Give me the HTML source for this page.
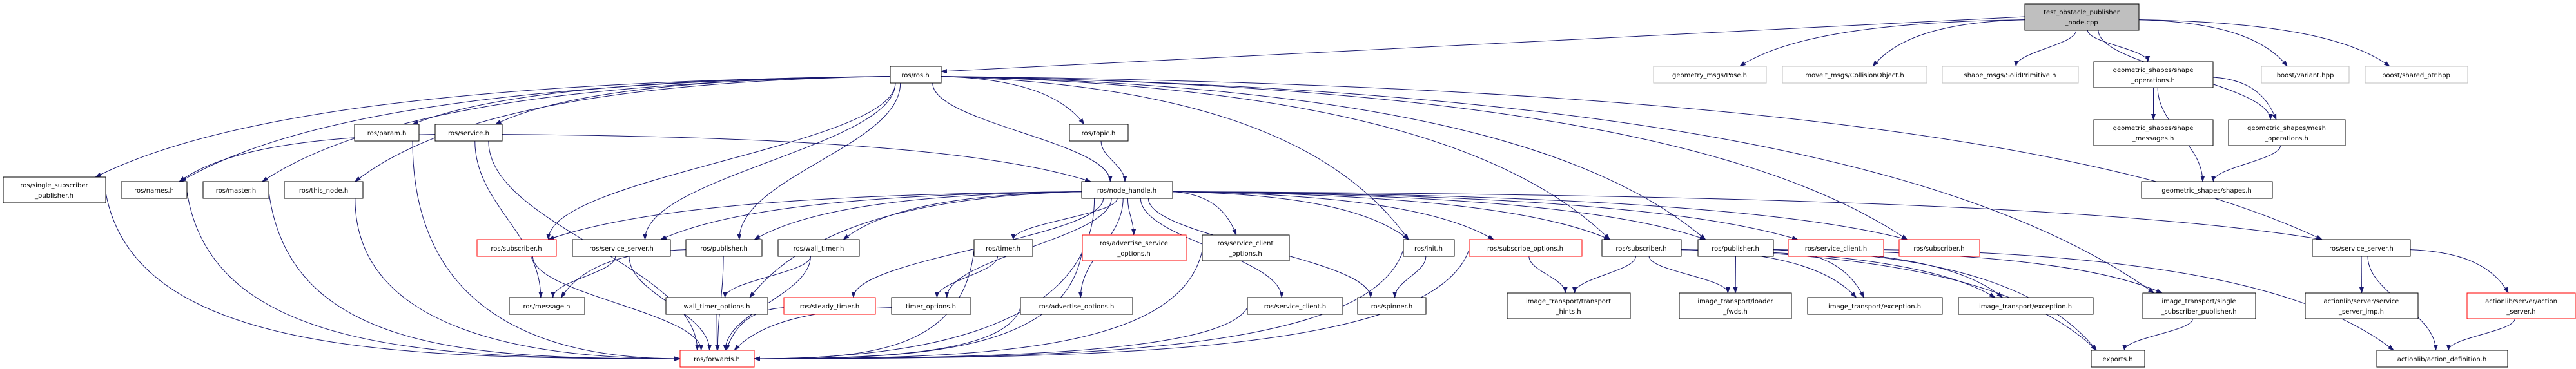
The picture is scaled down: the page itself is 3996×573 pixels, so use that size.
<!DOCTYPE html>
<html><head><meta charset="utf-8"><style>
html,body{margin:0;padding:0;background:#fff;}
svg{display:block;}
text{font-family:"DejaVu Sans","Liberation Sans",sans-serif;font-size:10px;fill:#000;text-anchor:middle;}
</style></head><body>
<svg id="g" width="3996" height="573" viewBox="0 0 3996 573" xmlns="http://www.w3.org/2000/svg">
<defs><marker id="a" viewBox="0 0 10 10" refX="9" refY="5" markerWidth="10" markerHeight="10" markerUnits="userSpaceOnUse" orient="auto"><path d="M0,1.5 L10,5 L0,8.5 z" fill="#191970"/></marker></defs>
<g id="edges" fill="none" stroke="#191970" stroke-width="1"></g>
<g id="nodes" stroke-width="1">
<rect x="3141" y="6" width="177" height="41" fill="#bfbfbf" stroke="#000"/><text x="3229" y="22">test_obstacle_publisher</text><text x="3229" y="38">_node.cpp</text>
<rect x="1381" y="103" width="79" height="26" fill="#fff" stroke="#000"/><text x="1420" y="120">ros/ros.h</text>
<rect x="2565" y="103" width="175" height="26" fill="#fff" stroke="#bfbfbf"/><text x="2652" y="120">geometry_msgs/Pose.h</text>
<rect x="2765" y="103" width="224" height="26" fill="#fff" stroke="#bfbfbf"/><text x="2877" y="120">moveit_msgs/CollisionObject.h</text>
<rect x="3013" y="103" width="211" height="26" fill="#fff" stroke="#bfbfbf"/><text x="3118" y="120">shape_msgs/SolidPrimitive.h</text>
<rect x="3248" y="96" width="185" height="40" fill="#fff" stroke="#000"/><text x="3340" y="112">geometric_shapes/shape</text><text x="3340" y="128">_operations.h</text>
<rect x="3508" y="103" width="136" height="26" fill="#fff" stroke="#bfbfbf"/><text x="3576" y="120">boost/variant.hpp</text>
<rect x="3669" y="103" width="159" height="26" fill="#fff" stroke="#bfbfbf"/><text x="3748" y="120">boost/shared_ptr.hpp</text>
<rect x="550" y="193" width="100" height="26" fill="#fff" stroke="#000"/><text x="600" y="210">ros/param.h</text>
<rect x="675" y="193" width="104" height="26" fill="#fff" stroke="#000"/><text x="727" y="210">ros/service.h</text>
<rect x="1659" y="193" width="91" height="26" fill="#fff" stroke="#000"/><text x="1704" y="210">ros/topic.h</text>
<rect x="3248" y="186" width="185" height="40" fill="#fff" stroke="#000"/><text x="3340" y="202">geometric_shapes/shape</text><text x="3340" y="218">_messages.h</text>
<rect x="3457" y="186" width="181" height="40" fill="#fff" stroke="#000"/><text x="3547" y="202">geometric_shapes/mesh</text><text x="3547" y="218">_operations.h</text>
<rect x="5" y="275" width="159" height="40" fill="#fff" stroke="#000"/><text x="84" y="291">ros/single_subscriber</text><text x="84" y="307">_publisher.h</text>
<rect x="188" y="282" width="102" height="26" fill="#fff" stroke="#000"/><text x="239" y="299">ros/names.h</text>
<rect x="315" y="282" width="102" height="26" fill="#fff" stroke="#000"/><text x="366" y="299">ros/master.h</text>
<rect x="441" y="282" width="122" height="26" fill="#fff" stroke="#000"/><text x="502" y="299">ros/this_node.h</text>
<rect x="1678" y="282" width="141" height="26" fill="#fff" stroke="#000"/><text x="1748" y="299">ros/node_handle.h</text>
<rect x="3322" y="282" width="203" height="26" fill="#fff" stroke="#000"/><text x="3423" y="299">geometric_shapes/shapes.h</text>
<rect x="740" y="372" width="123" height="26" fill="#fff" stroke="#ff0000"/><text x="801" y="389">ros/subscriber.h</text>
<rect x="888" y="372" width="152" height="26" fill="#fff" stroke="#000"/><text x="964" y="389">ros/service_server.h</text>
<rect x="1064" y="372" width="118" height="26" fill="#fff" stroke="#000"/><text x="1123" y="389">ros/publisher.h</text>
<rect x="1207" y="372" width="126" height="26" fill="#fff" stroke="#000"/><text x="1270" y="389">ros/wall_timer.h</text>
<rect x="1511" y="372" width="91" height="26" fill="#fff" stroke="#000"/><text x="1556" y="389">ros/timer.h</text>
<rect x="1679" y="365" width="161" height="40" fill="#fff" stroke="#ff0000"/><text x="1759" y="381">ros/advertise_service</text><text x="1759" y="397">_options.h</text>
<rect x="1865" y="365" width="135" height="40" fill="#fff" stroke="#000"/><text x="1932" y="381">ros/service_client</text><text x="1932" y="397">_options.h</text>
<rect x="2177" y="372" width="79" height="26" fill="#fff" stroke="#000"/><text x="2216" y="389">ros/init.h</text>
<rect x="2279" y="372" width="175" height="26" fill="#fff" stroke="#ff0000"/><text x="2366" y="389">ros/subscribe_options.h</text>
<rect x="2485" y="372" width="123" height="26" fill="#fff" stroke="#000"/><text x="2546" y="389">ros/subscriber.h</text>
<rect x="2634" y="372" width="117" height="26" fill="#fff" stroke="#000"/><text x="2692" y="389">ros/publisher.h</text>
<rect x="2774" y="372" width="148" height="26" fill="#fff" stroke="#ff0000"/><text x="2848" y="389">ros/service_client.h</text>
<rect x="2946" y="372" width="125" height="26" fill="#fff" stroke="#ff0000"/><text x="3008" y="389">ros/subscriber.h</text>
<rect x="3587" y="372" width="152" height="26" fill="#fff" stroke="#000"/><text x="3663" y="389">ros/service_server.h</text>
<rect x="790" y="462" width="117" height="26" fill="#fff" stroke="#000"/><text x="848" y="479">ros/message.h</text>
<rect x="1033" y="462" width="158" height="26" fill="#fff" stroke="#000"/><text x="1112" y="479">wall_timer_options.h</text>
<rect x="1216" y="462" width="142" height="26" fill="#fff" stroke="#ff0000"/><text x="1287" y="479">ros/steady_timer.h</text>
<rect x="1383" y="462" width="123" height="26" fill="#fff" stroke="#000"/><text x="1444" y="479">timer_options.h</text>
<rect x="1583" y="462" width="174" height="26" fill="#fff" stroke="#000"/><text x="1670" y="479">ros/advertise_options.h</text>
<rect x="1935" y="462" width="148" height="26" fill="#fff" stroke="#000"/><text x="2009" y="479">ros/service_client.h</text>
<rect x="2106" y="462" width="106" height="26" fill="#fff" stroke="#000"/><text x="2159" y="479">ros/spinner.h</text>
<rect x="2338" y="455" width="191" height="40" fill="#fff" stroke="#000"/><text x="2433" y="471">image_transport/transport</text><text x="2433" y="487">_hints.h</text>
<rect x="2605" y="455" width="174" height="40" fill="#fff" stroke="#000"/><text x="2692" y="471">image_transport/loader</text><text x="2692" y="487">_fwds.h</text>
<rect x="2804" y="462" width="209" height="26" fill="#fff" stroke="#000"/><text x="2908" y="479">image_transport/exception.h</text>
<rect x="3038" y="462" width="209" height="26" fill="#fff" stroke="#000"/><text x="3142" y="479">image_transport/exception.h</text>
<rect x="3324" y="455" width="175" height="40" fill="#fff" stroke="#000"/><text x="3411" y="471">image_transport/single</text><text x="3411" y="487">_subscriber_publisher.h</text>
<rect x="3576" y="455" width="175" height="40" fill="#fff" stroke="#000"/><text x="3663" y="471">actionlib/server/service</text><text x="3663" y="487">_server_imp.h</text>
<rect x="3827" y="455" width="168" height="40" fill="#fff" stroke="#ff0000"/><text x="3911" y="471">actionlib/server/action</text><text x="3911" y="487">_server.h</text>
<rect x="1055" y="544" width="115" height="26" fill="#fff" stroke="#ff0000"/><text x="1112" y="561">ros/forwards.h</text>
<rect x="3244" y="544" width="83" height="26" fill="#fff" stroke="#000"/><text x="3285" y="561">exports.h</text>
<rect x="3687" y="544" width="203" height="26" fill="#fff" stroke="#000"/><text x="3788" y="561">actionlib/action_definition.h</text>
</g>
</svg>
<script>
var N={
test:[3141,6,177,41],ros:[1381,103,79,26],pose:[2565,103,175,26],moveit:[2765,103,224,26],solid:[3013,103,211,26],shop:[3248,96,185,40],
variant:[3508,103,136,26],shptr:[3669,103,159,26],param:[550,193,100,26],service:[675,193,104,26],topic:[1659,193,91,26],
shmsg:[3248,186,185,40],mesh:[3457,186,181,40],ssp:[5,275,159,40],names:[188,282,102,26],master:[315,282,102,26],
thisn:[441,282,122,26],nh:[1678,282,141,26],shapes:[3322,282,203,26],subR:[740,372,123,26],ssrvL:[888,372,152,26],
pubL:[1064,372,118,26],wt:[1207,372,126,26],timer:[1511,372,91,26],aso:[1679,365,161,40],sco:[1865,365,135,40],
init:[2177,372,79,26],subo:[2279,372,175,26],sub:[2485,372,123,26],pub:[2634,372,117,26],scR:[2774,372,148,26],
subR2:[2946,372,125,26],ssrv:[3587,372,152,26],msg:[790,462,117,26],wto:[1033,462,158,26],st:[1216,462,142,26],
to:[1383,462,123,26],ao:[1583,462,174,26],sc:[1935,462,148,26],spin:[2106,462,106,26],th:[2338,455,191,40],
lf:[2605,455,174,40],ex1:[2804,462,209,26],ex2:[3038,462,209,26],itssp:[3324,455,175,40],ssi:[3576,455,175,40],
as:[3827,455,168,40],fw:[1055,544,115,26],exp:[3244,544,83,26],ad:[3687,544,203,26]};
var E=[
['test','ros'],['test','pose'],['test','moveit'],['test','solid'],['test','shop'],['test','variant'],['test','shptr'],['test','mesh'],
['ros','ssp'],['ros','names'],['ros','master'],['ros','thisn'],['ros','param'],['ros','service'],['ros','subR'],['ros','ssrvL'],['ros','pubL'],
['ros','topic'],['ros','nh'],['ros','init'],['ros','sub'],['ros','pub'],['ros','subR2'],['ros','itssp'],['ros','ssrv'],
['shop','shmsg'],['shop','mesh'],['shop','shapes'],['mesh','shapes'],['service','names'],['service','nh'],['service','fw'],['service','msg'],
['topic','nh'],
['nh','subR'],['nh','ssrvL'],['nh','pubL'],['nh','wt'],['nh','wto'],['nh','st'],['nh','timer'],['nh','to'],['nh','ao'],['nh','aso'],['nh','sco'],
['nh','sc'],['nh','fw'],['nh','init'],['nh','spin'],['nh','subo'],['nh','sub'],['nh','pub'],['nh','scR'],['nh','subR2'],['nh','ssrv'],
['ssp','fw'],['names','fw'],['master','fw'],['thisn','fw'],['param','fw'],['subR','fw'],['ssrvL','fw'],['ssrvL','msg'],['pubL','msg'],['pubL','fw'],
['wt','wto'],['wt','fw'],['wto','fw'],['st','fw'],['timer','to'],['timer','fw'],['to','fw'],['ao','fw'],['aso','fw'],['sco','fw'],['sc','fw'],
['init','spin'],['init','fw'],['subo','th'],['subo','fw'],['sub','th'],['sub','lf'],['sub','ex1'],['sub','ex2'],['sub','exp'],
['pub','lf'],['pub','ex1'],['pub','ex2'],['pub','itssp'],['pub','exp'],['scR','ad'],['itssp','exp'],
['ssrv','ssi'],['ssrv','as'],['ssrv','ad'],['as','ad']];
var s='';
E.forEach(function(e){var a=N[e[0]],b=N[e[1]];
var acx=a[0]+a[2]/2,bcx=b[0]+b[2]/2;
var x1,y1,x2,y2,c1x,c1y,c2x,c2y;
var vdy=b[1]-(a[1]+a[3]);
var far=Math.abs(bcx-acx)>3*Math.max(vdy,10);
if(e[1]=='ros'){x1=a[0];y1=a[1]+20;x2=b[0]+b[2];y2=b[1]+8;s+='<path d="M'+x1+','+y1+' L'+x2+','+y2+'" marker-end="url(#a)"/>';return;}
if(far){
 if(bcx<acx){x1=a[0];}else{x1=a[0]+a[2];}
 y1=a[1]+a[3]*0.6;
}else{
 var ox=Math.max(-a[2]/2.5,Math.min(a[2]/2.5,(bcx-acx)*0.08));x1=acx+ox;y1=a[1]+a[3];
}
if(e[1]=='fw'&&Math.abs(acx-bcx)>400){
 if(acx<bcx){x2=b[0];}else{x2=b[0]+b[2];}
 y2=b[1]+b[3]/2;
 c1x=x1+(x2-x1)*0.05;c1y=y2-10;c2x=x1+(x2-x1)*0.5;c2y=y2;
 if(!far){c1x=x1;c1y=y1+(y2-y1)*0.8;}
 s+='<path d="M'+x1+','+y1+' C'+c1x+','+c1y+' '+c2x+','+c2y+' '+x2+','+y2+'" marker-end="url(#a)"/>';return;
}
var ix=Math.max(-b[2]/2.5,Math.min(b[2]/2.5,(acx-bcx)*0.08));x2=bcx+ix;y2=b[1];
var dy=y2-y1;
if(far){c1x=x1+(x2-x1)*0.55;c1y=y1+dy*0.05;c2x=x2+(x1-x2)*0.15;c2y=y2-dy*0.6;}
else{c1x=x1;c1y=y1+dy*0.4;c2x=x2;c2y=y2-dy*0.4;}
s+='<path d="M'+x1+','+y1+' C'+c1x+','+c1y+' '+c2x+','+c2y+' '+x2+','+y2+'" marker-end="url(#a)"/>';});
document.getElementById('edges').innerHTML=s;
</script>
</body></html>
